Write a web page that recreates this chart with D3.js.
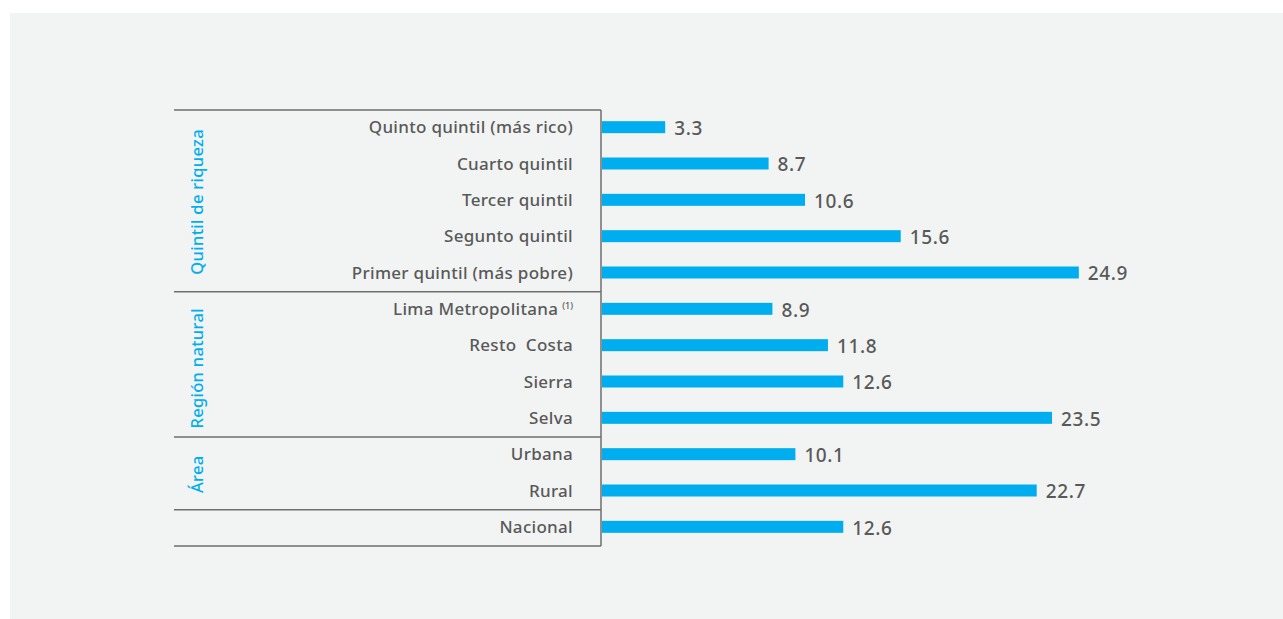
<!DOCTYPE html>
<html><head><meta charset="utf-8">
<script src="https://cdn.jsdelivr.net/npm/d3@7"></script>
<style>body{margin:0;background:#fff;}svg{display:block;} text{white-space:pre;}</style>
</head><body>
<script>
const categories = ["Quinto quintil (más rico)","Cuarto quintil","Tercer quintil","Segunto quintil","Primer quintil (más pobre)","Lima Metropolitana","Resto  Costa","Sierra","Selva","Urbana","Rural","Nacional"];
const values = [3.3, 8.7, 10.6, 15.6, 24.9, 8.9, 11.8, 12.6, 23.5, 10.1, 22.7, 12.6];
const groups = ["Quintil de riqueza","Región natural","Área",""];
const groupSizes = [5, 4, 2, 1];

(function(){
const W = 1283, H = 619;
const svg = d3.select("body").append("svg").attr("width", W).attr("height", H);
svg.append("rect").attr("x",10).attr("y",13).attr("width",W-10).attr("height",H-13).attr("fill","#f2f4f4");

const font = "'Noto Sans', sans-serif";
const plotTop = 110, plotBottom = 546, axisX = 601, leftX = 174;
const y = d3.scaleBand().domain(d3.range(categories.length)).range([plotTop, plotBottom]).paddingInner(0).paddingOuter(0);
const x = d3.scaleLinear().domain([0, 25]).range([602, 602 + 19.15*25]);
const barH = 12;

svg.selectAll("rect.bar").data(values).join("rect").attr("class","bar")
  .attr("x", x(0)).attr("y",(d,i)=>y(i)+y.bandwidth()/2-barH/2-1)
  .attr("width", d=>x(d)-x(0)).attr("height", barH).attr("fill","#00aeef");

svg.selectAll("text.val").data(values).join("text").attr("class","val")
  .attr("x", d=>x(d)+9).attr("y",(d,i)=>y(i)+y.bandwidth()/2)
  .attr("dy","0.36em").attr("font-family",font).attr("font-size",19).attr("font-weight",500)
  .attr("letter-spacing",0.6).attr("fill","#595959").text(d=>d.toFixed(1));

const cl = svg.selectAll("text.cat").data(categories).join("text").attr("class","cat")
  .attr("x", 573).attr("y",(d,i)=>y(i)+y.bandwidth()/2-1)
  .attr("dy","0.36em").attr("text-anchor","end").attr("font-family",font).attr("font-size",17).attr("font-weight",500)
  .attr("letter-spacing",0.3).attr("fill","#595959");
cl.text(d=>d);
cl.filter((d,i)=>i===5).append("tspan").attr("font-size",9).attr("dy","-0.7em").attr("dx","4").attr("letter-spacing",0).text("(1)");

const lineColor = "#6e6e6e";
let start = 0;
const bounds = [plotTop];
groupSizes.forEach(n=>{ start += n; bounds.push(start < categories.length ? y(start) : plotBottom); });
bounds.forEach(b=>{
  svg.append("line").attr("x1",leftX).attr("x2",axisX).attr("y1",b).attr("y2",b).attr("stroke",lineColor).attr("stroke-width",1.5);
});
svg.append("line").attr("x1",axisX).attr("x2",axisX).attr("y1",plotTop).attr("y2",plotBottom).attr("stroke",lineColor).attr("stroke-width",1.5);

groups.forEach((g,i)=>{
  if(!g) return;
  const cy = (bounds[i]+bounds[i+1])/2 + (i===1?4:1);
  svg.append("text").attr("transform",`translate(197,${cy}) rotate(-90)`)
    .attr("text-anchor","middle").attr("dy","0.36em").attr("font-family",font).attr("font-size",16.5).attr("font-weight",500)
    .attr("letter-spacing",0.3).attr("fill","#00aeef").text(g);
});
})();
</script>
</body></html>
